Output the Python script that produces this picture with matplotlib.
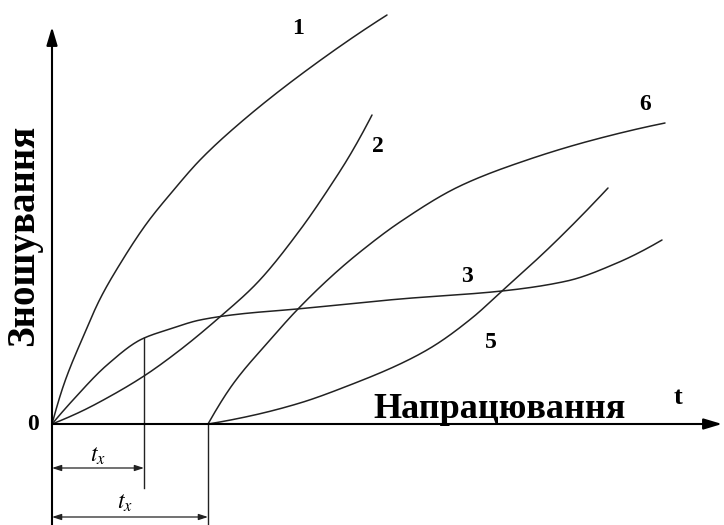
import matplotlib
matplotlib.use("Agg")
import matplotlib.pyplot as plt
import numpy as np

# wear curves: t = operating time, w = wear (arbitrary units)
t1 = [0, 12, 31, 48, 68, 95, 120, 148, 188, 255, 335]
w1 = [0, 40, 87, 125, 160, 201, 232, 264, 301, 354, 409]

t2 = [0, 28, 55, 92, 128, 169, 205, 248, 281, 298, 320]
w2 = [0, 12, 26, 48, 74, 108, 141, 194, 242, 269, 309]

t3 = [0, 21, 55, 90, 118, 148, 188, 245, 348, 450, 515, 565, 610]
w3 = [0, 24, 59, 85, 95, 104, 110, 115, 125, 133, 143, 161, 184]

t5 = [156, 198, 248, 298, 348, 380, 420, 450, 498, 556]
w5 = [0, 8, 21, 39, 60, 77, 106, 133, 177, 236]

t6 = [156, 181, 218, 245, 281, 308, 348, 408, 475, 541, 613]
w6 = [0, 40, 84, 114, 149, 172, 202, 238, 264, 284, 301]

curve_labels = ["1", "2", "3", "5", "6"]
label_pos = [(246, 396), (326, 277), (415, 147), (439, 81), (593, 319)]

tx1 = 92    # running-in time for curves 1-3
tx2 = 156   # start of curves 5, 6

serif = "Liberation Serif"
lc = "#222222"


def smooth(xs, ys, n=25):
    # monotone cubic (pchip-style) through the points
    x = np.asarray(xs, float)
    y = np.asarray(ys, float)
    h = np.diff(x)
    d = np.diff(y) / h
    m = np.zeros_like(x)
    for k in range(1, len(x) - 1):
        if d[k - 1] * d[k] > 0:
            a = 2 * h[k] + h[k - 1]
            b = h[k] + 2 * h[k - 1]
            m[k] = (a + b) / (a / d[k - 1] + b / d[k])
    m[0] = ((2 * h[0] + h[1]) * d[0] - h[0] * d[1]) / (h[0] + h[1])
    if m[0] * d[0] <= 0:
        m[0] = 0
    m[-1] = ((2 * h[-1] + h[-2]) * d[-1] - h[-1] * d[-2]) / (h[-1] + h[-2])
    if m[-1] * d[-1] <= 0:
        m[-1] = 0
    px, py = [], []
    for k in range(len(h)):
        s = np.linspace(0, 1, n, endpoint=False)
        h00 = 2 * s**3 - 3 * s**2 + 1
        h10 = s**3 - 2 * s**2 + s
        h01 = -2 * s**3 + 3 * s**2
        h11 = s**3 - s**2
        px.append(x[k] + s * h[k])
        py.append(h00 * y[k] + h10 * h[k] * m[k] + h01 * y[k + 1] + h11 * h[k] * m[k + 1])
    px.append([x[-1]])
    py.append([y[-1]])
    return np.concatenate(px), np.concatenate(py)


fig = plt.figure(figsize=(7.24, 5.25), dpi=100)
ax = fig.add_axes([0, 0, 1, 1])
ax.set_xlim(-52, 672)
ax.set_ylim(-101, 424)
ax.axis("off")

for t, w in [(t1, w1), (t2, w2), (t3, w3), (t5, w5), (t6, w6)]:
    xs, ys = smooth(t, w)
    ax.plot(xs, ys, color=lc, lw=1.1, solid_capstyle="round")

for s, (x, y) in zip(curve_labels, label_pos):
    ax.text(x, y, s, fontsize=17, fontweight="bold", family=serif,
            ha="center", va="center")

# axes with arrows
ax.annotate("", xy=(0, 397), xytext=(0, -101),
            arrowprops=dict(arrowstyle="-|>,head_length=1.1,head_width=0.33",
                            lw=1.5, color="k", shrinkA=0, shrinkB=0))
ax.annotate("", xy=(670, 0), xytext=(0, 0),
            arrowprops=dict(arrowstyle="-|>,head_length=1.1,head_width=0.33",
                            lw=1.5, color="k", shrinkA=0, shrinkB=0))

ax.text(-19, 0, "0", fontsize=17, fontweight="bold", family=serif,
        ha="center", va="center")
ax.text(626, 26, "t", fontsize=19, fontweight="bold", family=serif,
        ha="center", va="center")
ax.text(448, 15, "Напрацювання", fontsize=26, fontweight="bold", family=serif,
        ha="center", va="center")
ax.text(-28, 189, "Зношування", fontsize=28, fontweight="bold", family=serif,
        ha="center", va="center", rotation=90)

# extension lines for t_x
w_at_tx1 = 86
ax.plot([tx1, tx1], [w_at_tx1, -64], color=lc, lw=1.0)
ax.plot([tx2, tx2], [0, -101], color=lc, lw=1.0)

dim = dict(arrowstyle="<|-|>,head_length=0.55,head_width=0.18",
           lw=0.9, color=lc, shrinkA=0, shrinkB=0)
ax.annotate("", xy=(0, -44), xytext=(tx1, -44), arrowprops=dim)
ax.annotate("", xy=(0, -93), xytext=(tx2, -93), arrowprops=dim)

plt.rcParams["mathtext.fontset"] = "stix"
ax.text(tx1 / 2, -31, r"$t_x$", fontsize=17, ha="center", va="center")
ax.text(tx2 / 2 - 5, -78, r"$t_x$", fontsize=17, ha="center", va="center")

plt.savefig("out.png", dpi=100)
